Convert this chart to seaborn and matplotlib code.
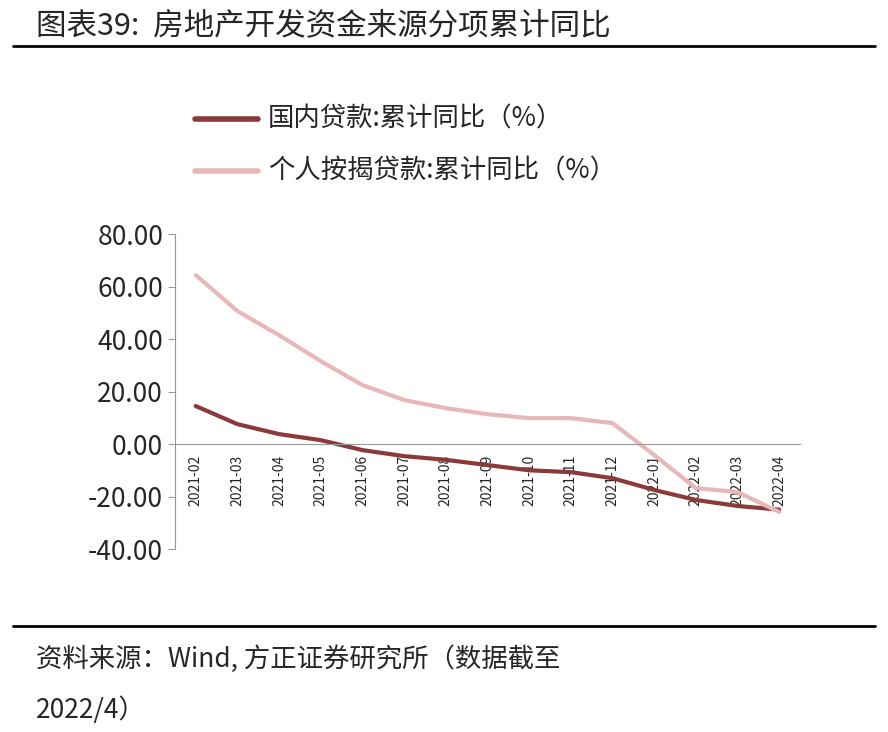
import matplotlib
matplotlib.use('Agg')
import matplotlib.pyplot as plt
import seaborn as sns
import pandas as pd

sns.set_style('white')
plt.rcParams['font.family'] = ['Noto Sans CJK SC', 'DejaVu Sans']
plt.rcParams['axes.unicode_minus'] = False

months = ['2021-02', '2021-03', '2021-04', '2021-05', '2021-06', '2021-07', '2021-08',
          '2021-09', '2021-10', '2021-11', '2021-12', '2022-01', '2022-02', '2022-03', '2022-04']
domestic_loans = [14.5, 7.6, 3.8, 1.5, -2.3, -4.6, -6.0, -8.0, -10.0, -10.7, -13.0, -17.5, -21.3, -23.6, -25.0]
mortgage_loans = [64.4, 50.7, 41.5, 31.6, 22.5, 16.8, 13.7, 11.4, 9.9, 9.9, 8.0, -4.2, -16.8, -18.3, -25.9]

df = pd.DataFrame({'month': months,
                   '国内贷款:累计同比（%）': domestic_loans,
                   '个人按揭贷款:累计同比（%）': mortgage_loans})
long_df = df.melt(id_vars='month', var_name='series', value_name='value')

fig = plt.figure(figsize=(8.88, 7.32), dpi=100)
ax = fig.add_axes([0.197, 0.25, 0.704, 0.43])

sns.lineplot(data=long_df, x='month', y='value', hue='series', ax=ax, sort=False,
             palette=['#8B3A3A', '#E8B8B8'], linewidth=3, legend=False)

ax.set_ylim(-40, 80)
ax.set_yticks(range(-40, 81, 20))
ax.set_yticklabels([f'{v:.2f}' for v in range(-40, 81, 20)], fontsize=19)
ax.set_xlim(-0.5, len(months) - 0.5)
ax.set_xticks(range(len(months)))
ax.set_xticklabels(months, fontsize=17)
ax.set_xlabel('')
ax.set_ylabel('')
for s in ['top', 'right']:
    ax.spines[s].set_visible(False)
ax.spines['bottom'].set_position(('data', 0))
ax.spines['bottom'].set_color('#999999')
ax.spines['left'].set_color('#999999')
ax.tick_params(axis='x', direction='out', length=6, color='#999999', pad=2, labelrotation=90)
ax.tick_params(axis='y', left=True, direction='out', length=5, color='#999999')
for lab in ax.get_xticklabels():
    lab.set_rotation(90)
    lab.set_va('top')
    lab.set_ha('center')

# legend
fig.lines.append(plt.Line2D([0.22, 0.29], [0.838, 0.838], color='#8B3A3A', lw=4, transform=fig.transFigure))
fig.lines.append(plt.Line2D([0.22, 0.29], [0.766, 0.766], color='#E8B8B8', lw=4, transform=fig.transFigure))
fig.text(0.302, 0.838, '国内贷款:累计同比（%）', fontsize=19, va='center')
fig.text(0.302, 0.766, '个人按揭贷款:累计同比（%）', fontsize=19, va='center')

# title and footer
fig.text(0.04, 0.965, '图表39:  房地产开发资金来源分项累计同比', fontsize=22, va='center')
fig.lines.append(plt.Line2D([0.015, 0.985], [0.937, 0.937], color='black', lw=2, transform=fig.transFigure))
fig.lines.append(plt.Line2D([0.015, 0.985], [0.145, 0.145], color='black', lw=2, transform=fig.transFigure))
fig.text(0.04, 0.1, '资料来源：Wind, 方正证券研究所（数据截至', fontsize=19, style='italic', va='center')
fig.text(0.04, 0.03, '2022/4）', fontsize=19, style='italic', va='center')

fig.savefig('out.png', dpi=100)
